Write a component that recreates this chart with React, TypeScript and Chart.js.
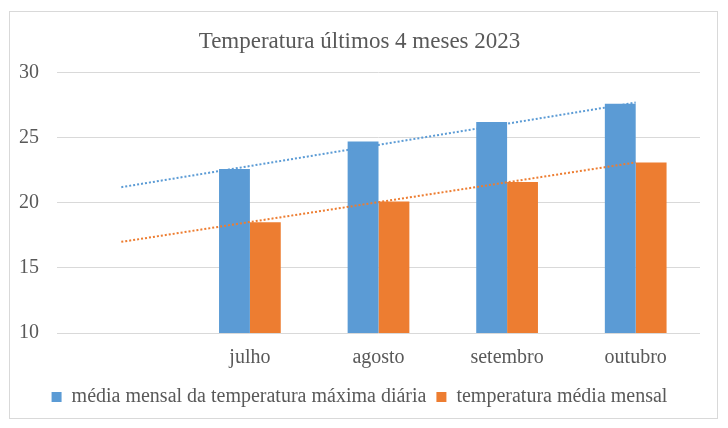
import { useEffect, useRef } from 'react';
import { Chart, registerables } from 'chart.js';

Chart.register(...registerables);

// first category is blank in the original sheet, the trend lines start there
const months = ['', 'julho', 'agosto', 'setembro', 'outubro'];
const maxDaily = [null, 22.6, 24.7, 26.2, 27.6];
const avgMonthly = [null, 18.5, 20.1, 21.6, 23.1];
// linear trend endpoints
const maxTrend = [21.2, null, null, null, 27.7];
const avgTrend = [17.0, null, null, null, 23.1];
const yTicks = [10, 15, 20, 25, 30];

const BLUE = '#5B9BD5';
const ORANGE = '#ED7D31';
const TEXT = '#595959';
const GRID = '#D9D9D9';

export default function App() {
  const canvasRef = useRef<HTMLCanvasElement | null>(null);

  useEffect(() => {
    if (!canvasRef.current) return;
    Chart.defaults.font.family = "'Liberation Serif', 'Times New Roman', serif";

    const chart = new Chart(canvasRef.current, {
      type: 'bar',
      data: {
        labels: months,
        datasets: [
          {
            label: 'média mensal da temperatura máxima diária',
            data: maxDaily,
            backgroundColor: BLUE,
            categoryPercentage: 0.48,
            barPercentage: 1,
            order: 2
          },
          {
            label: 'temperatura média mensal',
            data: avgMonthly,
            backgroundColor: ORANGE,
            categoryPercentage: 0.48,
            barPercentage: 1,
            order: 2
          },
          {
            type: 'line',
            label: 'trend-max',
            data: maxTrend,
            borderColor: BLUE,
            borderWidth: 2,
            borderDash: [2, 2],
            pointRadius: 0,
            spanGaps: true,
            fill: false,
            order: 1
          },
          {
            type: 'line',
            label: 'trend-avg',
            data: avgTrend,
            borderColor: ORANGE,
            borderWidth: 2,
            borderDash: [2, 2],
            pointRadius: 0,
            spanGaps: true,
            fill: false,
            order: 1
          }
        ] as any
      },
      options: {
        animation: false,
        responsive: true,
        maintainAspectRatio: false,
        layout: { padding: { left: 9, right: 17, top: 0, bottom: 1 } },
        plugins: {
          title: {
            display: true,
            text: 'Temperatura últimos 4 meses 2023',
            color: TEXT,
            font: { size: 23, weight: 'normal' },
            padding: { top: 16, bottom: 17 }
          },
          legend: {
            position: 'bottom',
            labels: {
              color: TEXT,
              font: { size: 20 },
              boxWidth: 10,
              boxHeight: 10,
              padding: 10,
              filter: item => !String(item.text).startsWith('trend')
            }
          },
          tooltip: { enabled: false }
        },
        scales: {
          x: {
            grid: { display: false, tickLength: 6 },
            border: { display: false },
            ticks: {
              color: TEXT,
              font: { size: 20 },
              padding: 7,
              maxRotation: 0
            }
          },
          y: {
            min: yTicks[0],
            max: yTicks[yTicks.length - 1],
            afterBuildTicks: axis => {
              axis.ticks = yTicks.map(v => ({ value: v }));
            },
            afterFit: axis => {
              axis.width = 38;
            },
            grid: { color: GRID, lineWidth: 1, drawTicks: false },
            border: { display: false },
            ticks: {
              color: TEXT,
              font: { size: 20 },
              padding: 18
            }
          }
        }
      }
    });

    return () => chart.destroy();
  }, []);

  return (
    <div
      style={{
        position: 'absolute',
        left: 9,
        top: 11,
        width: 709,
        height: 408,
        boxSizing: 'border-box',
        border: `1px solid ${GRID}`,
        background: '#fff'
      }}
    >
      <div style={{ position: 'relative', width: '100%', height: '100%' }}>
        <canvas ref={canvasRef}></canvas>
      </div>
    </div>
  );
}
